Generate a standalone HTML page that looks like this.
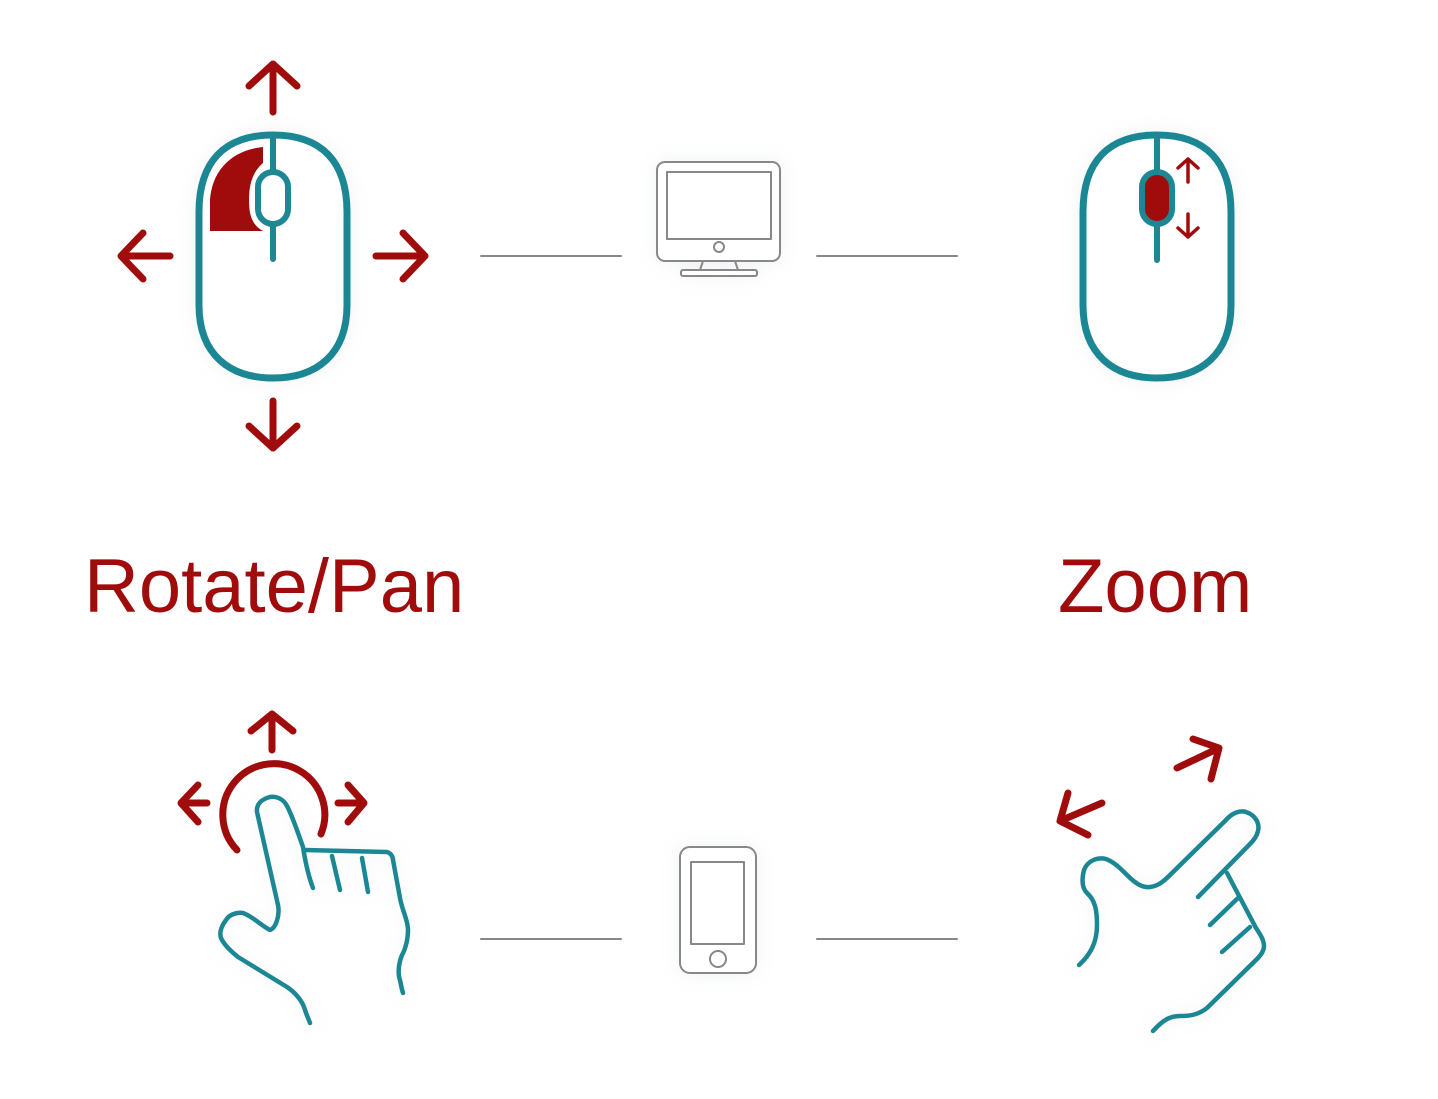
<!DOCTYPE html>
<html><head><meta charset="utf-8"><style>
html,body{margin:0;padding:0;background:#fff;}
svg{display:block}
text{font-family:"Liberation Sans",sans-serif;fill:#a00c0c}
</style></head><body>
<svg width="1438" height="1099" viewBox="0 0 1438 1099" xmlns="http://www.w3.org/2000/svg">
<defs><filter id="sh" x="-20%" y="-20%" width="140%" height="140%"><feGaussianBlur in="SourceAlpha" stdDeviation="8"/><feColorMatrix values="0 0 0 0 0.4  0 0 0 0 0.45  0 0 0 0 0.5  0 0 0 0.18 0"/><feMerge><feMergeNode/><feMergeNode in="SourceGraphic"/></feMerge></filter></defs>
<g fill="none" stroke-linecap="round" stroke-linejoin="round">
<!-- left mouse -->
<g stroke="#a00c0c" stroke-width="7">
<path d="M273,112 V64 M249,86 L273,64 L297,86"/>
<path d="M170,256 H121 M143,233 L121,256 L143,279"/>
<path d="M376,256 H425 M403,233 L425,256 L403,279"/>
<path d="M273,401 V448 M249,426 L273,448 L297,426"/>
</g>
<path filter="url(#sh)" fill="#fff" stroke="#1e8794" stroke-width="7" d="M273,135 C322,135 347,162 347,212 L347,305 C347,355 316,378 273,378 C230,378 199,355 199,305 L199,212 C199,162 224,135 273,135Z"/>
<path fill="#a00c0c" stroke="none" d="M263,147 C232,150 212,170 210,200 L210,231 L263,231 C252,225 249,215 249,200 C249,180 255,170 263,163Z"/>
<g stroke="#1e8794" stroke-width="6">
<path d="M273,135 V170 M273,224 V259"/>
<rect x="258" y="172" width="30" height="52" rx="15" fill="#fff"/>
</g>
<!-- right mouse -->
<path filter="url(#sh)" fill="#fff" stroke="#1e8794" stroke-width="7" d="M1157,135 C1206,135 1231,162 1231,212 L1231,305 C1231,355 1200,378 1157,378 C1114,378 1083,355 1083,305 L1083,212 C1083,162 1108,135 1157,135Z"/>
<g stroke="#1e8794" stroke-width="6">
<path d="M1157,135 V170 M1157,224 V260"/>
<rect x="1142" y="172" width="30" height="52" rx="15" fill="#a00c0c"/>
</g>
<g stroke="#a00c0c" stroke-width="3.5">
<path d="M1188,182 V159 M1178,168 L1188,159 L1198,168"/>
<path d="M1188,214 V237 M1178,228 L1188,237 L1198,228"/>
</g>
<!-- connectors -->
<g stroke="#888" stroke-width="2">
<path d="M481,256 H621 M817,256 H957 M481,939 H621 M817,939 H957"/>
<g filter="url(#sh)">
<rect x="657" y="162" width="123" height="99" rx="8" fill="#fff"/>
<rect x="667" y="172" width="104" height="67" fill="#fff"/>
<circle cx="719" cy="247" r="5"/>
<path d="M703,261 L700,270 M735,261 L738,270"/>
<rect x="681" y="270" width="76" height="6" rx="2" fill="#fff"/>
<rect x="680" y="847" width="76" height="126" rx="10" fill="#fff"/>
<rect x="691" y="862" width="53" height="82"/>
<circle cx="718" cy="959" r="8"/>
</g>
</g>
<!-- bottom-left touch -->
<g stroke="#a00c0c" stroke-width="7">
<path d="M272,750 V714 M251,731 L272,714 L293,731"/>
<path d="M207,803 H181 M198,785 L181,803 L198,822"/>
<path d="M338,803 H364 M348,785 L364,803 L348,822"/>
<path d="M237,850 A51,51 0 1 1 321,834"/>
</g>
<g stroke="#1e8794" stroke-width="4.5" filter="url(#sh)">
<path d="M313,888 C308,875 305,860 303,847 C297,830 292,815 287,806 C283,798 275,796 270,797 C262,799 256,804 257,812 L278,905 C280,915 276,928 270,930 C262,926 252,916 243,913 C236,912 229,915 226,920 C220,928 219,935 222,940 C226,947 233,953 238,957 L287,987 C296,993 303,1002 305,1010 C307,1016 309,1020 310,1023"/>
<path d="M305,850 L387,852 C391,853 393,857 393,860 L400,898 C402,910 408,920 408,930 C408,940 405,950 402,955 C398,965 398,975 400,980 C401,985 402,990 403,993"/>
<path d="M332,856 L340,890 M362,858 L368,892"/>
</g>
<!-- bottom-right pinch -->
<g stroke="#a00c0c" stroke-width="7">
<path d="M1177,768 L1219,748 M1193,739 L1219,748 L1211,779"/>
<path d="M1102,803 L1060,821 M1068,793 L1060,821 L1088,835"/>
</g>
<g stroke="#1e8794" stroke-width="4.5" filter="url(#sh)">
<path d="M1079,965 C1090,955 1097,943 1097,925 C1097,910 1095,900 1087,893 C1081,887 1082,878 1084,870 C1088,860 1098,857 1106,859 C1114,862 1120,868 1127,875 C1135,883 1142,888 1150,887 C1158,886 1163,882 1170,875 L1226,820 C1232,813 1240,810 1246,812 C1255,815 1260,823 1258,831 C1257,836 1254,840 1250,844 L1198,897"/>
<path d="M1227,873 L1256,928 C1260,934 1264,940 1264,946 C1264,951 1261,955 1257,959 L1207,1008 C1198,1015 1190,1016 1180,1016 C1170,1016 1163,1020 1153,1031"/>
<path d="M1210,925 L1238,898 M1222,952 L1250,927"/>
</g>
</g>
<text x="84" y="612" font-size="76">Rotate/Pan</text>
<text x="1058" y="612" font-size="76">Zoom</text>
</svg>
</body></html>
